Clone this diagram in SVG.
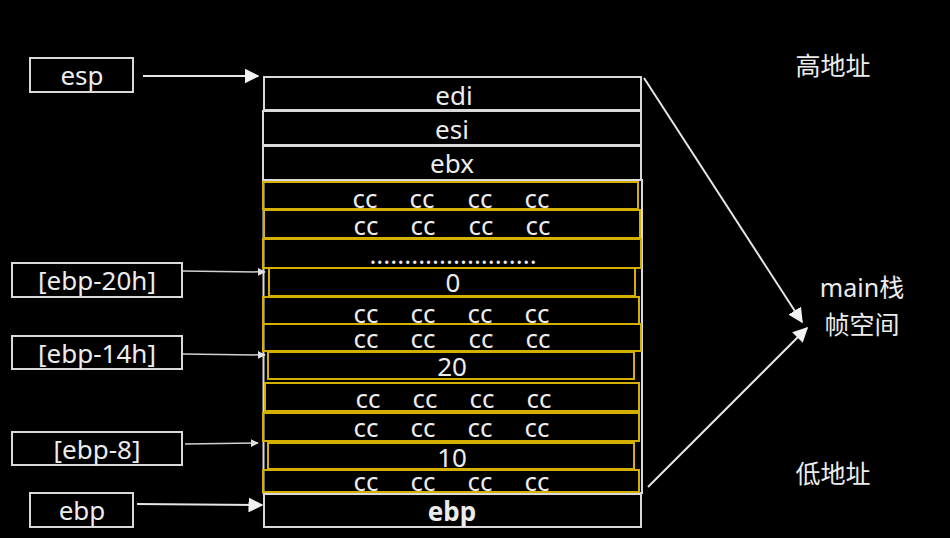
<svg xmlns="http://www.w3.org/2000/svg" width="950" height="538" viewBox="0 0 950 538">
<defs>
<style>
.t{font-family:"Noto Sans","Noto Sans CJK SC",sans-serif;fill:#ececec;text-anchor:middle;}
.w{fill:none;stroke:#d9d9d9;stroke-width:2;}
.y{fill:none;stroke:#d4b000;stroke-width:2;}
.c{stroke:#e6e6e6;stroke-width:2;fill:none;}
.cs{stroke:#d0d0d0;stroke-width:1.5;fill:none;}
.cc{font-size:26px;}
.n{font-size:26px;}
.cn{font-size:25px;}
</style>
<marker id="big" viewBox="0 0 10 10" refX="9" refY="5" markerWidth="15" markerHeight="15" markerUnits="userSpaceOnUse" orient="auto"><path d="M0,0 L10,5 L0,10 z" fill="#f2f2f2"/></marker>
<marker id="sm" viewBox="0 0 10 10" refX="9" refY="5" markerWidth="8" markerHeight="8" markerUnits="userSpaceOnUse" orient="auto"><path d="M0,0 L10,5 L0,10 z" fill="#e0e0e0"/></marker>
</defs>
<rect width="950" height="538" fill="#000"/>

<g id="stack-frame">
<rect class="w" x="263.5" y="180" width="378.5" height="313"/>
</g>
<g id="edi"><rect class="w" x="264" y="77" width="377" height="33"/><text class="t n" x="454" y="105">edi</text></g>
<g id="esi"><rect class="w" x="263" y="111" width="378" height="34"/><text class="t n" x="452" y="139">esi</text></g>
<g id="ebx"><rect class="w" x="263" y="146" width="378" height="34"/><text class="t n" x="452" y="173">ebx</text></g>

<g id="cc1"><rect class="y" x="263" y="182" width="375" height="27"/>
<text class="t cc" y="208"><tspan x="365">cc</tspan><tspan x="422">cc</tspan><tspan x="480">cc</tspan><tspan x="537">cc</tspan></text></g>
<g id="cc2"><rect class="y" x="264" y="210" width="376" height="28"/>
<text class="t cc" y="235"><tspan x="366">cc</tspan><tspan x="423">cc</tspan><tspan x="481">cc</tspan><tspan x="538">cc</tspan></text></g>
<g id="dots"><rect class="y" x="263" y="239" width="378" height="29"/>
<text class="t cc" x="453" y="264">........................</text></g>
<g id="v0"><rect class="y" x="269" y="268" width="366" height="28"/>
<text class="t n" x="453" y="292">0</text></g>
<g id="cc3"><rect class="y" x="263" y="297" width="376" height="27"/>
<text class="t cc" y="323"><tspan x="366">cc</tspan><tspan x="423">cc</tspan><tspan x="480">cc</tspan><tspan x="537">cc</tspan></text></g>
<g id="cc4"><rect class="y" x="263" y="324" width="378" height="27"/>
<text class="t cc" y="348"><tspan x="366">cc</tspan><tspan x="423">cc</tspan><tspan x="481">cc</tspan><tspan x="538">cc</tspan></text></g>
<g id="v20"><rect class="y" x="268" y="352" width="366" height="27"/>
<text class="t n" x="452" y="376">20</text></g>
<g id="cc5"><rect class="y" x="265" y="383" width="374" height="28"/>
<text class="t cc" y="408"><tspan x="368">cc</tspan><tspan x="425">cc</tspan><tspan x="482">cc</tspan><tspan x="539">cc</tspan></text></g>
<g id="cc6"><rect class="y" x="263" y="413" width="376" height="28"/>
<text class="t cc" y="437"><tspan x="366">cc</tspan><tspan x="423">cc</tspan><tspan x="480">cc</tspan><tspan x="537">cc</tspan></text></g>
<g id="v10"><rect class="y" x="268" y="443" width="366" height="26"/>
<text class="t n" x="452" y="467">10</text></g>
<g id="cc7"><rect class="y" x="263" y="470" width="376" height="22"/>
<text class="t cc" y="491"><tspan x="366">cc</tspan><tspan x="423">cc</tspan><tspan x="480">cc</tspan><tspan x="537">cc</tspan></text></g>
<g id="ebp-slot"><rect class="w" x="264" y="494" width="377" height="33"/>
<text class="t n" font-weight="bold" x="452" y="521">ebp</text></g>

<g id="lbl-esp"><rect class="w" x="30" y="58" width="103" height="34"/><text class="t n" x="82" y="85">esp</text></g>
<g id="lbl-20h"><rect class="w" x="12" y="263" width="170" height="34"/><text class="t n" x="97" y="290">[ebp-20h]</text></g>
<g id="lbl-14h"><rect class="w" x="12" y="336" width="170" height="33"/><text class="t n" x="97" y="363">[ebp-14h]</text></g>
<g id="lbl-8"><rect class="w" x="12" y="432" width="170" height="33"/><text class="t n" x="97" y="459">[ebp-8]</text></g>
<g id="lbl-ebp"><rect class="w" x="30" y="493" width="103" height="34"/><text class="t n" x="82" y="520">ebp</text></g>

<g id="lbl-high"><text class="t cn" x="833" y="75">高地址</text></g>
<g id="lbl-main"><text class="t cn" x="862" y="297">main栈</text><text class="t cn" x="862" y="334">帧空间</text></g>
<g id="lbl-low"><text class="t cn" x="833" y="483">低地址</text></g>

<g id="connectors">
<line class="c" x1="143" y1="76" x2="258" y2="76" marker-end="url(#big)"/>
<line class="cs" x1="183" y1="271" x2="265" y2="272" marker-end="url(#sm)"/>
<line class="cs" x1="183" y1="354" x2="265" y2="355" marker-end="url(#sm)"/>
<line class="cs" x1="185" y1="444" x2="258" y2="443" marker-end="url(#sm)"/>
<line class="c" x1="137" y1="504" x2="262" y2="505" marker-end="url(#big)"/>
<line class="c" x1="644" y1="78" x2="802" y2="322" marker-end="url(#big)"/>
<line class="c" x1="648" y1="487" x2="807" y2="328" marker-end="url(#big)"/>
</g>
</svg>
